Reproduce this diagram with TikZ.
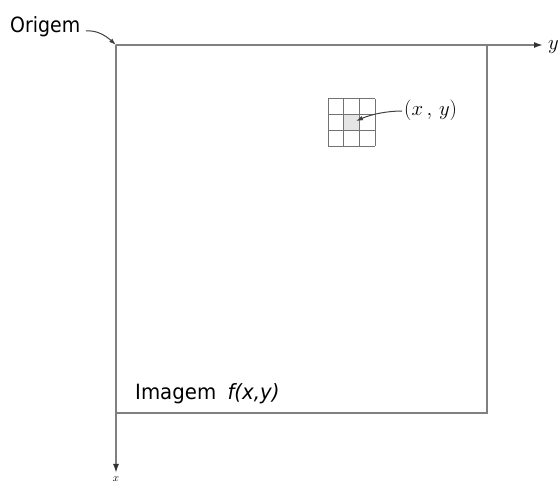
\documentclass[tikz,border=0pt]{standalone}
\usepackage{fontspec}
\setsansfont{DejaVu Sans}
\usetikzlibrary{arrows.meta}
\begin{document}
\begin{tikzpicture}[x=1pt,y=-1pt,
  axisline/.style={draw=black!50,line width=1.6pt},
  axisarrow/.style={axisline,-{Latex[length=9pt,width=6pt,color=black!80]}},
  gridline/.style={draw=black!55,line width=1pt},
  pointer/.style={draw=black!75,line width=1pt,-{Latex[length=7pt,width=4.5pt]}},
  lbl/.style={font=\sffamily\fontsize{21}{24}\selectfont,inner sep=0pt,xscale=0.94},
  mathlbl/.style={font=\fontsize{21}{24}\selectfont,inner sep=0pt}]
\useasboundingbox (0,0) rectangle (558,486);
% image frame and axes
\coordinate (O) at (116,45);
\coordinate (yend) at (543,45);
\coordinate (xend) at (116,473);
\coordinate (br) at (487,413);
\draw[axisarrow] (O) -- (yend);
\draw[axisarrow] (O) -- (xend);
\draw[axisline] (487,45) -- (br) -- (116,413);
\node[mathlbl,anchor=west] (ylab) at (548,47) {$y$};
\node[font=\fontsize{11}{13}\selectfont,inner sep=0pt,anchor=north] (xlab) at (116,477) {$x$};
% origin label
\node[lbl,anchor=base west,xscale=0.96] (orig) at (10,33) {Origem};
\coordinate (ostart) at (86,31);
\draw[pointer] (ostart) .. controls (96,30) and (105,35) .. (O);
% pixel neighbourhood
\fill[black!10] (343.7,114.7) rectangle (359.3,130.3);
\foreach \i in {0,1,2,3}{
  \draw[gridline] (328,99+15.67*\i) -- (375,99+15.67*\i);
  \draw[gridline] (328+15.67*\i,99) -- (328+15.67*\i,146);
}
\coordinate (pix) at (356,121);
\node[mathlbl,anchor=west] (xy) at (404,110) {$(x\,,\,y)$};
\draw[pointer] (xy.west) ++(-2,1) .. controls (388,111) and (372,114) .. (pix);
% caption
\node[lbl,anchor=base west] (cap) at (135,400) {Imagem\hspace{12pt}\textit{f(x,y)}};
\end{tikzpicture}
\end{document}
